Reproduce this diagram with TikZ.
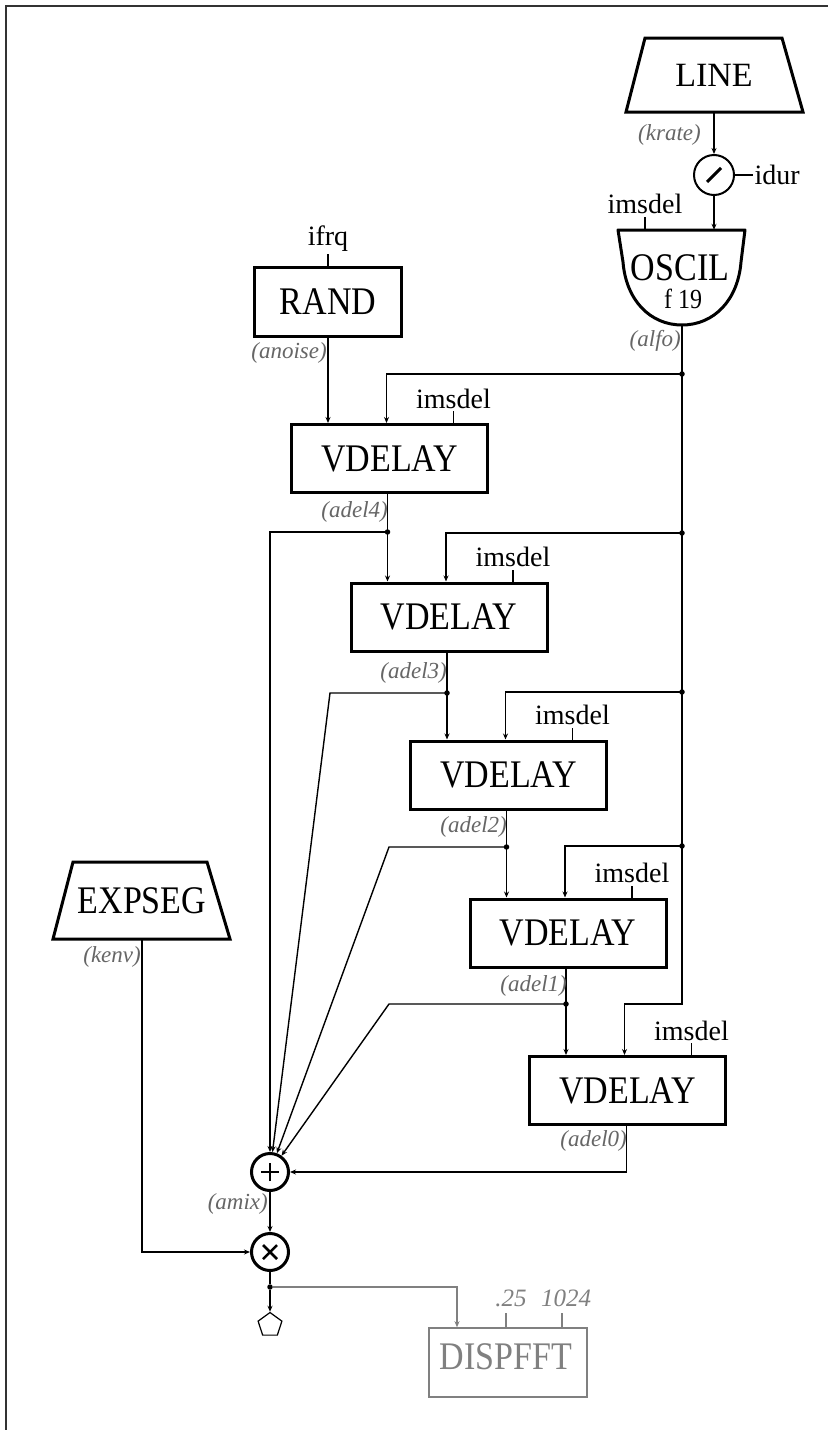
\documentclass[tikz,border=0pt]{standalone}
\usepackage{fontspec}
\setmainfont{Liberation Serif}
\usepackage{graphicx}
\usetikzlibrary{arrows.meta,shapes.geometric}
\newcommand{\opname}[1]{\scalebox{1}[1.15]{#1}}

\begin{document}
\begin{tikzpicture}[x=1pt,y=-1pt,
  wire/.style={line width=1.4pt},
  arr/.style={wire,-{Stealth[length=6pt,width=5pt]}},
  unit/.style={draw,line width=3pt,inner sep=0pt,font=\fontsize{34}{38}\selectfont},
  vd/.style={unit,minimum width=196pt,minimum height=68pt},
  ghost/.style={inner sep=0pt,font=\fontsize{34}{38}\selectfont},
  par/.style={font=\fontsize{28}{30}\selectfont,inner sep=2pt},
  sig/.style={font=\fontsize{23}{25}\selectfont\itshape,text=black!60,inner sep=0pt},
  dot/.style={circle,fill,inner sep=0pt,minimum size=5.5pt},
  op/.style={circle,draw,line width=3pt,minimum size=37pt,inner sep=0pt},
  dim/.style={black!50}]

\useasboundingbox (0,0) rectangle (828,1430);
\fill[white] (0,0) rectangle (828,1430);

% page frame (top and left edges)
\draw[line width=2.5pt,black!80] (6,1430) -- (6,6) -- (828,6);

% ---------------- LINE -> divide -> OSCIL ----------------
\node[ghost,minimum width=177pt,minimum height=74pt] (line) at (714,75) {LINE};
\draw[line width=3pt,line join=miter] (626,112) -- (645,38) -- (782,38) -- (803,112) -- cycle;
\node[sig,anchor=east] (lkrate) at (701,135) {(krate)};

\node[circle,draw,line width=2pt,minimum size=40pt,inner sep=0pt] (div) at (714,175) {};
\draw[line width=3pt] ([xshift=-7pt,yshift=-7pt]div.center) -- ([xshift=7pt,yshift=7pt]div.center);
\draw[arr] (line.south) -- (div.north);
\draw[wire] (div.east) -- ++(18,0) node[par,anchor=west,inner sep=1pt] (pidur) {idur};

\node[minimum width=127pt,minimum height=95pt,inner sep=0pt] (osc) at (682,277.5) {};
\draw[line width=3pt,line join=round] (618,230) -- (745,230) -- (741,262)
  .. controls (738,300) and (714,325) .. (682,325)
  .. controls (650,325) and (626,300) .. (623,262) -- cycle;
\node[ghost] (oscname) at (680,268) {\opname{OSCIL}};
\node[font=\fontsize{24}{26}\selectfont,inner sep=0pt] (oscfn) at (683,299) {\opname{f 19}};
\draw[arr] (div.south) -- (div.south |- osc.north);
\draw[wire] ([xshift=-37pt]osc.north) -- ++(0,-13) node[par,anchor=south] (posc) {imsdel};
\node[sig,anchor=east] (lalfo) at (681,341) {(alfo)};

% ---------------- RAND ----------------
\node[unit,minimum width=147pt,minimum height=69pt] (rand) at (328,301.5) {\opname{RAND}};
\draw[wire] (rand.north) -- ++(0,-12) node[par,anchor=south,inner sep=1pt] (pifrq) {ifrq};
\node[sig,anchor=east] (lanoise) at (327,353) {(anoise)};

% ---------------- delay chain ----------------
\node[vd] (v4) at (389.5,458.5) {\opname{VDELAY}};
\node[vd] (v3) at (449,617)     {\opname{VDELAY}};
\node[vd] (v2) at (508.5,775)   {\opname{VDELAY}};
\node[vd] (v1) at (568,933)     {\opname{VDELAY}};
\node[vd] (v0) at (627.5,1090.5) {\opname{VDELAY}};

\foreach \v in {v4,v3,v2,v1,v0}
  \draw[wire] ([xshift=64pt]\v.north) -- ++(0,-12) node[par,anchor=south] (p\v) {imsdel};

\draw[arr] (rand.south) -- (rand.south |- v4.north);

% modulation trunk from OSCIL
\coordinate (t4) at (682,374);
\coordinate (t3) at (682,533);
\coordinate (t2) at (682,692);
\coordinate (t1) at (682,846);
\coordinate (t0) at (682,1004);
\draw[arr] (osc.south) -- (t0) -| ([xshift=-3pt]v0.north);
\foreach \t/\v in {t4/v4,t3/v3,t2/v2,t1/v1}{
  \draw[arr] (\t) -| ([xshift=-3pt]\v.north);
  \node[dot] (d\t) at (\t) {};
}

% mixer
\node[op] (sum) at (270,1172) {};
\draw[line width=2.5pt] ([xshift=-9pt]sum.center) -- ([xshift=9pt]sum.center);
\draw[line width=2.5pt] ([yshift=-9pt]sum.center) -- ([yshift=9pt]sum.center);
\node[op] (mul) at (270,1252) {};
\draw[line width=2.5pt] ([xshift=-7pt,yshift=-7pt]mul.center) -- ([xshift=7pt,yshift=7pt]mul.center);
\draw[line width=2.5pt] ([xshift=-7pt,yshift=7pt]mul.center) -- ([xshift=7pt,yshift=-7pt]mul.center);

% delay taps
\coordinate (o4) at (387.5,532);
\coordinate (o3) at (447,693);
\coordinate (o2) at (506.5,847);
\coordinate (o1) at (566,1004);
\coordinate (k3) at (330,693);
\coordinate (k2) at (389,847);
\coordinate (k1) at (389,1004);

\draw[wire] ([xshift=-2pt]v4.south) -- (o4);
\draw[wire] ([xshift=-2pt]v3.south) -- (o3);
\draw[wire] ([xshift=-2pt]v2.south) -- (o2);
\draw[wire] ([xshift=-2pt]v1.south) -- (o1);

\draw[arr] (o4) -- (o4 |- v3.north);
\draw[arr] (o3) -- (o3 |- v2.north);
\draw[arr] (o2) -- (o2 |- v1.north);
\draw[arr] (o1) -- (o1 |- v0.north);

\draw[arr] (o4) -| (sum.north);
\draw[arr] (o3) -- (k3) -- (sum);
\draw[arr] (o2) -- (k2) -- (sum);
\draw[arr] (o1) -- (k1) -- (sum);
\draw[arr] ([xshift=-1pt]v0.south) |- (sum.east);

\foreach \o in {o4,o3,o2,o1} \node[dot] (d\o) at (\o) {};

\node[sig,anchor=east] (ladel4) at (388,512)  {(adel4)};
\node[sig,anchor=east] (ladel3) at (447,673)  {(adel3)};
\node[sig,anchor=east] (ladel2) at (507,827)  {(adel2)};
\node[sig,anchor=east] (ladel1) at (567,986)  {(adel1)};
\node[sig,anchor=east] (ladel0) at (627,1141) {(adel0)};

\draw[arr] (sum) -- (mul);
\node[sig,anchor=east] (lamix) at (268,1204) {(amix)};

% ---------------- EXPSEG ----------------
\node[ghost,minimum width=177pt,minimum height=77pt] (exps) at (142,900.5) {\opname{EXPSEG}};
\draw[line width=3pt,line join=miter] (53,939) -- (73,862) -- (207,862) -- (230,939) -- cycle;
\node[sig,anchor=east] (lkenv) at (141,957) {(kenv)};
\draw[arr] (exps.south) |- (mul.west);

% ---------------- output ----------------
\node[dot] (od) at (270,1287) {};
\node[regular polygon,regular polygon sides=5,draw,line width=1.2pt,minimum size=25pt,inner sep=0pt] (term) at (270,1325) {};
\draw[wire] (mul) -- (od);
\draw[arr] (od) -- (term);

% ---------------- DISPFFT ----------------
\node[draw=black!50,line width=1.6pt,minimum width=158pt,minimum height=69pt,inner sep=0pt] (fft) at (508,1362.5) {};
\node[ghost,text=black!50] (fftname) at (506,1357) {\opname{DISPFFT}};
\draw[arr,dim] (od) -| ([xshift=-51pt]fft.north);
\draw[wire,dim] ([xshift=-2pt]fft.north) -- ++(0,-14) coordinate (q1);
\draw[wire,dim] ([xshift=54pt]fft.north) -- ++(0,-14) coordinate (q2);
\node[sig,text=black!50,font=\fontsize{25}{27}\selectfont\itshape,anchor=south] (pq1) at ([xshift=5pt,yshift=6pt]q1) {.25};
\node[sig,text=black!50,font=\fontsize{25}{27}\selectfont\itshape,anchor=south] (pq2) at ([xshift=4pt,yshift=6pt]q2) {1024};

\end{tikzpicture}
\end{document}
